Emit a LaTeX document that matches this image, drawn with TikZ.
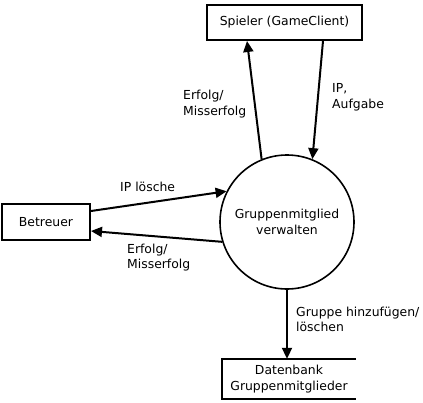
\documentclass[tikz,border=0pt]{standalone}
\usepackage{fontspec}
\setmainfont{DejaVu Sans}
\usetikzlibrary{arrows.meta}
\begin{document}
\begin{tikzpicture}[x=1pt,y=-1pt,
  every node/.style={font=\fontsize{12.4}{15.5}\selectfont},
  box/.style={draw,line width=2pt,inner sep=0pt},
  lbl/.style={anchor=west,align=left,inner sep=0pt},
  flow/.style={line width=2pt,-{Triangle[length=11pt,width=10pt]}}]
\useasboundingbox (0,0) rectangle (423,402);
\node[box,minimum width=155pt,minimum height=35pt] (sp) at (284.5,22.5) {Spieler (GameClient)};
\node[box,minimum width=88pt,minimum height=36pt] (bt) at (46,222) {Betreuer};
\node[draw,circle,line width=1.6pt,minimum size=134pt,inner sep=0pt,align=center] (c) at (287,222) {Gruppenmitglied\\verwalten};
\node[minimum width=134pt,minimum height=40pt,inner sep=0pt,align=center] (db) at (289,379) {Datenbank\\Gruppenmitglieder};
\draw[line width=2pt] (db.north east) -- (db.north west) -- (db.south west) -- (db.south east);
\draw[flow] (c.112.4) -- ([xshift=-37.5pt]sp.south);
\draw[flow] ([xshift=38.5pt]sp.south) -- (c.68.8);
\draw[flow] ([yshift=11pt]bt.east) -- (c.153);
\draw[flow] (c.197) -- ([yshift=-9pt]bt.east);
\draw[flow] (c.south) -- (c.south |- db.north);
\node[lbl] (l1) at (183,104) {Erfolg/\\Misserfolg};
\node[lbl] (l2) at (332,97.5) {IP,\\Aufgabe};
\node[lbl] (l3) at (120,187) {IP lösche};
\node[lbl] (l4) at (127,257.5) {Erfolg/\\Misserfolg};
\node[lbl] (l5) at (296,319.5) {Gruppe hinzufügen/\\löschen};
\end{tikzpicture}
\end{document}
